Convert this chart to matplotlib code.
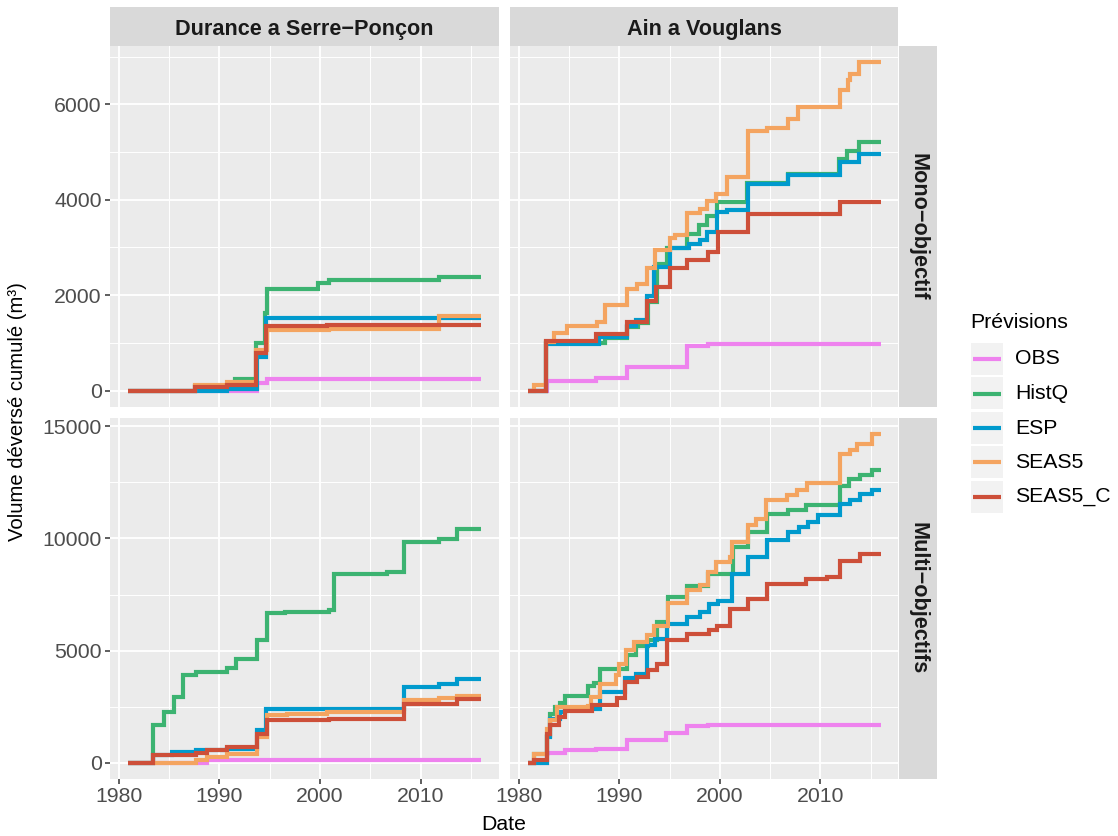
import matplotlib
matplotlib.use("Agg")
import matplotlib.pyplot as plt
from matplotlib.patches import Rectangle
from matplotlib.lines import Line2D
from matplotlib.ticker import FixedLocator

plt.rcParams['font.family'] = ['Liberation Sans', 'DejaVu Sans']

# ---------------------------------------------------------------- data
series_names = ["OBS", "HistQ", "ESP", "SEAS5", "SEAS5_C"]
series_colors = ["#EE82EE", "#3CB371", "#009ACD", "#F4A460", "#CD4F39"]
col_titles = ["Durance a Serre\u2212Ponçon", "Ain a Vouglans"]
row_titles = ["Mono\u2212objectif", "Multi\u2212objectifs"]
x_ticks = [1980, 1990, 2000, 2010]
y_ticks_mono = [0, 2000, 4000, 6000]
y_ticks_multi = [0, 5000, 10000, 15000]

# Durance, mono-objectif (cumulative spill, step change dates)
dur_mono_obs_yr = [1980.9, 1993.7, 1994.75, 2016.0]
dur_mono_obs_v = [0, 150, 250, 250]
dur_mono_histq_yr = [1980.9, 1987.6, 1991.6, 1993.6, 1994.5, 1994.75, 1999.8, 2000.9, 2011.8, 2016.0]
dur_mono_histq_v = [0, 100, 240, 990, 1620, 2140, 2260, 2320, 2385, 2385]
dur_mono_esp_yr = [1980.9, 1990.8, 1993.75, 1994.65, 2016.0]
dur_mono_esp_v = [0, 30, 700, 1525, 1525]
dur_mono_seas5_yr = [1980.9, 1987.6, 1990.8, 1993.6, 1994.75, 2000.85, 2011.8, 2016.0]
dur_mono_seas5_v = [0, 120, 190, 850, 1270, 1300, 1560, 1560]
dur_mono_seas5c_yr = [1980.9, 1987.6, 1990.8, 1993.6, 1994.6, 2000.7, 2016.0]
dur_mono_seas5c_v = [0, 70, 120, 795, 1350, 1370, 1370]

# Ain, mono-objectif
ain_mono_obs_yr = [1980.9, 1982.8, 1987.7, 1990.8, 1996.7, 1998.8, 2016.0]
ain_mono_obs_v = [0, 210, 260, 490, 935, 975, 975]
ain_mono_histq_yr = [1980.9, 1982.75, 1988.6, 1990.8, 1991.9, 1992.9, 1993.75, 1994.75, 1996.7,
                     1997.9, 1998.7, 1999.7, 2002.7, 2006.8, 2011.8, 2012.6, 2013.8, 2016.0]
ain_mono_histq_v = [0, 1000, 1095, 1340, 1410, 1860, 2650, 2980, 3290,
                    3480, 3650, 3950, 4350, 4550, 4850, 5030, 5210, 5210]
ain_mono_esp_yr = [1980.9, 1982.75, 1988.0, 1990.8, 1991.7, 1992.8, 1993.5, 1995.05, 1996.9,
                   1998.0, 1998.7, 1999.7, 2000.7, 2002.75, 2006.8, 2011.95, 2013.8, 2016.0]
ain_mono_esp_v = [0, 975, 1130, 1350, 1490, 1980, 2595, 2980, 3080,
                  3165, 3325, 3745, 3795, 4340, 4525, 4790, 4965, 4965]
ain_mono_seas5_yr = [1980.9, 1981.5, 1982.75, 1983.5, 1984.8, 1987.8, 1988.6, 1990.8, 1991.75,
                     1992.75, 1993.6, 1995.0, 1995.55, 1996.7, 1998.0, 1998.7, 1999.65, 2000.7,
                     2002.75, 2004.7, 2006.8, 2007.8, 2011.95, 2012.7, 2012.95, 2013.8, 2016.0]
ain_mono_seas5_v = [0, 120, 1025, 1215, 1355, 1445, 1790, 2140, 2245,
                    2560, 2940, 3200, 3270, 3725, 3815, 3965, 4115, 4475,
                    5440, 5510, 5695, 5940, 6305, 6510, 6635, 6880, 6880]
ain_mono_seas5c_yr = [1980.9, 1982.75, 1987.7, 1990.8, 1992.8, 1993.65, 1995.05, 1996.7, 1998.8,
                      1999.8, 2002.75, 2011.95, 2016.0]
ain_mono_seas5c_v = [0, 1035, 1185, 1445, 1880, 2175, 2560, 2745, 2905,
                     3325, 3695, 3955, 3955]

# Durance, multi-objectifs
dur_multi_obs_yr = [1980.9, 1988.8, 2016.0]
dur_multi_obs_v = [0, 100, 100]
dur_multi_histq_yr = [1980.9, 1983.4, 1984.5, 1985.5, 1986.4, 1987.7, 1990.8, 1991.7, 1993.75,
                      1994.75, 1996.55, 2000.85, 2001.4, 2006.65, 2008.3, 2011.8, 2013.6, 2016.0]
dur_multi_histq_v = [0, 1665, 2260, 2930, 3925, 4045, 4235, 4640, 5485,
                     6675, 6720, 6795, 8430, 8505, 9840, 9990, 10435, 10435]
dur_multi_esp_yr = [1980.9, 1983.4, 1985.3, 1987.7, 1990.8, 1993.75, 1994.65, 2008.3, 2011.8,
                    2013.6, 2016.0]
dur_multi_esp_v = [0, 350, 475, 550, 600, 1440, 2410, 3375, 3525, 3745, 3745]
dur_multi_seas5_yr = [1980.9, 1987.7, 1988.8, 1990.8, 1993.75, 1994.75, 1996.7, 2000.7, 2008.3,
                      2011.8, 2013.6, 2016.0]
dur_multi_seas5_v = [0, 105, 255, 400, 1145, 2110, 2185, 2260, 2810, 2900, 2960, 2960]
dur_multi_seas5c_yr = [1980.9, 1983.4, 1987.7, 1988.8, 1990.8, 1993.75, 1994.75, 2000.85, 2008.3,
                       2013.6, 2016.0]
dur_multi_seas5c_v = [0, 355, 445, 550, 700, 1295, 1920, 1960, 2630, 2855, 2855]

# Ain, multi-objectifs
ain_multi_obs_yr = [1980.9, 1982.8, 1984.6, 1987.7, 1990.8, 1994.6, 1996.7, 1998.8, 2016.0]
ain_multi_obs_v = [0, 445, 580, 625, 1025, 1325, 1620, 1665, 1665]
ain_multi_histq_yr = [1980.9, 1981.5, 1982.8, 1983.15, 1983.6, 1984.1, 1984.6, 1986.85, 1987.45,
                      1988.05, 1990.8, 1991.7, 1992.9, 1993.75, 1994.8, 1996.7, 1998.8, 2001.3,
                      2002.75, 2004.7, 2006.8, 2008.6, 2011.95, 2012.8, 2013.9, 2015.1, 2016.0]
ain_multi_histq_v = [0, 370, 1200, 2155, 2485, 2660, 2960, 3405, 3555,
                     4190, 4785, 5220, 5455, 6275, 7390, 7865, 8430, 9620,
                     10285, 11075, 11285, 11475, 12325, 12665, 12815, 13035, 13035]
ain_multi_esp_yr = [1980.9, 1982.8, 1983.15, 1984.1, 1984.6, 1988.1, 1990.6, 1991.7, 1992.75,
                    1993.6, 1994.7, 1996.7, 1998.0, 1998.9, 1999.8, 2001.2, 2002.75, 2004.7,
                    2006.8, 2007.9, 2008.75, 2009.8, 2011.95, 2012.95, 2013.9, 2015.1, 2016.0]
ain_multi_esp_v = [0, 1145, 1960, 2260, 2410, 3150, 3775, 3970, 5235,
                   5500, 6200, 6495, 6720, 7060, 7210, 8400, 9170, 9915,
                   10285, 10510, 10735, 11030, 11520, 11730, 11965, 12175, 12175]
ain_multi_seas5_yr = [1980.9, 1981.5, 1982.8, 1983.15, 1983.8, 1986.85, 1987.2, 1988.05, 1989.7,
                      1990.0, 1990.7, 1991.5, 1992.75, 1993.5, 1994.8, 1996.7, 1998.0, 1998.8,
                      1999.65, 2001.0, 2001.2, 2002.75, 2003.6, 2004.6, 2006.65, 2007.7, 2008.65,
                      2011.95, 2012.9, 2013.6, 2015.1, 2016.0]
ain_multi_seas5_v = [0, 370, 1515, 1920, 2485, 2510, 2930, 3525, 3895,
                     4415, 5040, 5380, 5680, 6080, 7120, 7715, 7910, 8505,
                     8950, 9170, 9840, 10585, 10880, 11700, 11925, 12175, 12470,
                     13750, 13960, 14225, 14645, 14645]
ain_multi_seas5c_yr = [1980.9, 1981.5, 1982.8, 1983.15, 1984.0, 1984.6, 1987.3, 1989.8, 1990.6,
                       1991.75, 1992.9, 1993.75, 1994.75, 1996.7, 1998.9, 1999.7, 2001.0, 2002.75,
                       2004.7, 2008.6, 2010.6, 2011.95, 2013.9, 2016.0]
ain_multi_seas5c_v = [0, 105, 1295, 1665, 2035, 2290, 2555, 2900, 3600,
                      3820, 4120, 4415, 5455, 5725, 5900, 6080, 6870, 7315,
                      7985, 8205, 8280, 8995, 9320, 9320]

panels = [
    [  # row: mono-objectif
        [(dur_mono_obs_yr, dur_mono_obs_v), (dur_mono_histq_yr, dur_mono_histq_v),
         (dur_mono_esp_yr, dur_mono_esp_v), (dur_mono_seas5_yr, dur_mono_seas5_v),
         (dur_mono_seas5c_yr, dur_mono_seas5c_v)],
        [(ain_mono_obs_yr, ain_mono_obs_v), (ain_mono_histq_yr, ain_mono_histq_v),
         (ain_mono_esp_yr, ain_mono_esp_v), (ain_mono_seas5_yr, ain_mono_seas5_v),
         (ain_mono_seas5c_yr, ain_mono_seas5c_v)],
    ],
    [  # row: multi-objectifs
        [(dur_multi_obs_yr, dur_multi_obs_v), (dur_multi_histq_yr, dur_multi_histq_v),
         (dur_multi_esp_yr, dur_multi_esp_v), (dur_multi_seas5_yr, dur_multi_seas5_v),
         (dur_multi_seas5c_yr, dur_multi_seas5c_v)],
        [(ain_multi_obs_yr, ain_multi_obs_v), (ain_multi_histq_yr, ain_multi_histq_v),
         (ain_multi_esp_yr, ain_multi_esp_v), (ain_multi_seas5_yr, ain_multi_seas5_v),
         (ain_multi_seas5c_yr, ain_multi_seas5c_v)],
    ],
]
y_ticks_rows = [y_ticks_mono, y_ticks_multi]

# ---------------------------------------------------------------- layout
W, H = 1118, 836
FS = 15.3
fig = plt.figure(figsize=(W / 100, H / 100), dpi=100)
fig.patch.set_facecolor("white")


def box(x0, y0, x1, y1):
    """pixel box (top-left origin) -> figure fraction rect"""
    return [x0 / W, 1 - y1 / H, (x1 - x0) / W, (y1 - y0) / H]


col_x = [(110, 499), (510, 898.5)]
row_y = [(46, 407), (418, 779)]
strip_top = (7, 46)
strip_right = (898.5, 937)

PANEL_BG = "#EBEBEB"
STRIP_BG = "#D9D9D9"


def expand(lo, hi, f=0.05):
    r = hi - lo
    return lo - f * r, hi + f * r


all_x = [x for row in panels for cell in row for yr, _ in cell for x in yr]
xlim = expand(min(all_x), max(all_x))
ylims = []
for row in panels:
    vals = [v for cell in row for _, vv in cell for v in vv]
    ylims.append(expand(min(vals), max(vals)))

for r in range(2):
    for c in range(2):
        ax = fig.add_axes(box(col_x[c][0], row_y[r][0], col_x[c][1], row_y[r][1]))
        ax.set_facecolor(PANEL_BG)
        for s in ax.spines.values():
            s.set_visible(False)
        ax.set_xlim(*xlim)
        ax.set_ylim(*ylims[r])
        yt = y_ticks_rows[r]
        step = yt[1] - yt[0]
        ax.xaxis.set_major_locator(FixedLocator(x_ticks))
        ax.xaxis.set_minor_locator(FixedLocator([t + 5 for t in x_ticks]))
        ax.yaxis.set_major_locator(FixedLocator(yt))
        ax.yaxis.set_minor_locator(FixedLocator([t + step / 2 for t in yt]))
        ax.grid(which="major", color="white", linewidth=1.35)
        ax.grid(which="minor", color="white", linewidth=0.7)
        ax.set_axisbelow(True)
        ax.tick_params(which="minor", length=0)
        ax.tick_params(which="major", length=3.6, width=1.1, color="#333333",
                       labelsize=FS, labelcolor="#4D4D4D", pad=2.5)
        if c == 0:
            ax.set_yticklabels([str(t) for t in yt])
        else:
            ax.tick_params(axis="y", length=0, labelleft=False)
        if r == 1:
            ax.set_xticklabels([str(t) for t in x_ticks])
        else:
            ax.tick_params(axis="x", length=0, labelbottom=False)

        for (yr, v), color in zip(panels[r][c], series_colors):
            ax.step(yr, v, where="post", color=color, linewidth=3.0,
                    solid_joinstyle="miter", solid_capstyle="butt")

# strips along the top
for c in range(2):
    sax = fig.add_axes(box(col_x[c][0], strip_top[0], col_x[c][1], strip_top[1]))
    sax.set_facecolor(STRIP_BG)
    sax.set_xticks([]); sax.set_yticks([])
    for s in sax.spines.values():
        s.set_visible(False)
    sax.text(0.5, 0.5, col_titles[c], ha="center", va="center_baseline",
             fontsize=15.6, fontweight="bold", color="#1A1A1A", transform=sax.transAxes)

# strips on the right
for r in range(2):
    sax = fig.add_axes(box(strip_right[0], row_y[r][0], strip_right[1], row_y[r][1]))
    sax.set_facecolor(STRIP_BG)
    sax.set_xticks([]); sax.set_yticks([])
    for s in sax.spines.values():
        s.set_visible(False)
    sax.text(0.5, 0.5, row_titles[r], ha="center", va="center", rotation=-90,
             fontsize=15.6, fontweight="bold", color="#1A1A1A", transform=sax.transAxes)

# axis titles
fig.text(18 / W, 1 - 412 / H, "Volume déversé cumulé (m³)", rotation=90,
         ha="center", va="center", fontsize=14.6, color="black")
fig.text(504 / W, 1 - 824 / H, "Date", ha="center", va="center",
         fontsize=FS, color="black")

# legend
fig.text(970 / W, 1 - 322 / H, "Prévisions", ha="left", va="center",
         fontsize=FS, color="black")
key_y0 = 359
key_step = 34.5
for i, (name, color) in enumerate(zip(series_names, series_colors)):
    yc = key_y0 + i * key_step
    fig.add_artist(Rectangle((970.5 / W, 1 - (yc + 16) / H), 32 / W, 32 / H,
                             transform=fig.transFigure, facecolor="#F2F2F2",
                             edgecolor="none"))
    fig.add_artist(Line2D([973 / W, 1000.5 / W], [1 - yc / H, 1 - yc / H],
                          transform=fig.transFigure, color=color, linewidth=3.0,
                          solid_capstyle="butt"))
    fig.text(1015 / W, 1 - yc / H, name, ha="left", va="center",
             fontsize=FS, color="black")

fig.savefig("out.png", dpi=100)
